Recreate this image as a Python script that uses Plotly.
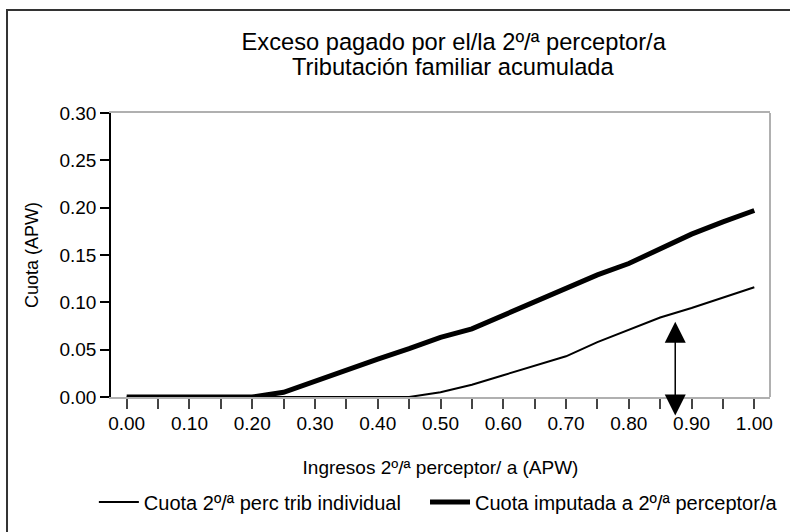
import plotly.graph_objects as go

ingresos = [0.00, 0.05, 0.10, 0.15, 0.20, 0.25, 0.30, 0.35, 0.40, 0.45, 0.50,
            0.55, 0.60, 0.65, 0.70, 0.75, 0.80, 0.85, 0.90, 0.95, 1.00]
cuota_individual = [0.000, 0.000, 0.000, 0.000, 0.000, 0.000, 0.000, 0.000, 0.000, 0.000, 0.005,
                    0.013, 0.023, 0.033, 0.043, 0.058, 0.071, 0.084, 0.094, 0.105, 0.116]
cuota_imputada = [0.000, 0.000, 0.000, 0.000, 0.000, 0.005, 0.017, 0.028, 0.040, 0.051, 0.063,
                  0.072, 0.086, 0.101, 0.115, 0.129, 0.141, 0.157, 0.172, 0.185, 0.197]
x_ticks = [0.00, 0.10, 0.20, 0.30, 0.40, 0.50, 0.60, 0.70, 0.80, 0.90, 1.00]
y_ticks = [0.00, 0.05, 0.10, 0.15, 0.20, 0.25, 0.30]
arrow_x = 0.874
arrow_low = -0.021
arrow_high = 0.0795

FONT = "Liberation Sans, Arial, sans-serif"

fig = go.Figure()
fig.add_trace(go.Scatter(x=ingresos, y=cuota_individual, mode="lines",
                         name="Cuota 2º/ª perc trib individual", legend="legend",
                         line=dict(color="black", width=2), cliponaxis=False))
fig.add_trace(go.Scatter(x=ingresos, y=cuota_imputada, mode="lines",
                         name="Cuota imputada a 2º/ª perceptor/a", legend="legend2",
                         line=dict(color="black", width=5), cliponaxis=False))

fig.add_annotation(x=arrow_x, y=arrow_high, ax=arrow_x, ay=arrow_low,
                   xref="x", yref="y", axref="x", ayref="y", text="",
                   showarrow=True, arrowside="end+start", arrowhead=2, startarrowhead=2,
                   arrowwidth=1.5, arrowsize=2.8, startarrowsize=2.8, arrowcolor="black")

# second title line
fig.add_annotation(text="Tributación familiar acumulada", xref="paper", yref="paper",
                   x=0.52, y=1.162, xanchor="center", yanchor="middle", showarrow=False,
                   font=dict(family=FONT, size=23.7, color="black"))

# plot area right border (gray)
fig.add_shape(type="line", xref="paper", yref="paper", x0=1, x1=1, y0=0, y1=1,
              line=dict(color="#b0b0b0", width=2))
# outer chart border
fig.add_shape(type="rect", xref="paper", yref="paper", x0=-0.1578, x1=1.06, y0=-0.55, y1=1.3627,
              line=dict(color="#333333", width=2), layer="below")

legend_common = dict(orientation="h", xanchor="left", y=-0.37, yanchor="middle",
                     font=dict(size=20), bgcolor="rgba(0,0,0,0)", itemwidth=40)

fig.update_layout(
    width=790, height=532,
    margin=dict(l=111, r=20, t=113, b=135, autoexpand=False),
    paper_bgcolor="white", plot_bgcolor="white",
    font=dict(family=FONT, size=18, color="black"),
    title=dict(text="Exceso pagado por el/la 2º/ª perceptor/a",
               x=0.52, xref="paper", xanchor="center", y=0.921, yanchor="middle",
               font=dict(family=FONT, size=23.7, color="black")),
    xaxis=dict(range=[-0.025, 1.025], tickmode="array", tickvals=x_ticks,
               ticktext=[f"{v:.2f}" for v in x_ticks],
               showgrid=False, zeroline=False, showline=True, linecolor="#b0b0b0",
               linewidth=2, mirror=True, ticks="outside", ticklen=10, tickwidth=1.5,
               tickcolor="#444444", ticklabelstandoff=-2, tickfont=dict(size=19),
               minor=dict(dtick=0.05, tick0=0.05, ticks="outside", ticklen=10,
                          tickwidth=1.5, tickcolor="#444444"),
               title=dict(text="Ingresos 2º/ª perceptor/ a (APW)", standoff=28,
                          font=dict(size=19))),
    yaxis=dict(range=[0, 0.30], tickmode="array", tickvals=y_ticks,
               ticktext=[f"{v:.2f}" for v in y_ticks],
               showgrid=False, zeroline=False, showline=True, linecolor="black",
               linewidth=1.5, ticks="outside", ticklen=9, tickwidth=1.5, tickcolor="black",
               tickfont=dict(size=19),
               title=dict(text="Cuota (APW)", standoff=16, font=dict(size=18))),
    legend=dict(x=-0.026, **legend_common),
    legend2=dict(x=0.4765, **legend_common),
    showlegend=True,
)

fig.write_html("out.html", config={"displayModeBar": False},
               post_script="document.body.style.margin='0';")
